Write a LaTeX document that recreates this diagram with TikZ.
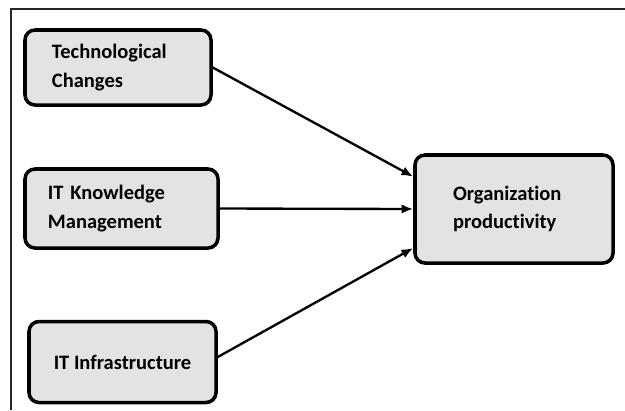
\documentclass[tikz,border=0pt]{standalone}
\usepackage{fontspec}
\setmainfont[Ligatures=NoCommon]{Carlito}
\usetikzlibrary{arrows.meta,calc}
\begin{document}
\begin{tikzpicture}[x=0.03cm, y=-0.03cm,
        factor/.style={draw, line width=3pt, rounded corners=0.3cm, fill=gray!22,
            font=\bfseries\fontsize{17.5}{25.5}\selectfont, inner ysep=0pt},
        link/.style={line width=2pt, -{Latex[length=10pt, width=8pt]}}]
        \useasboundingbox (0,0) rectangle (625,410);
        \draw[line width=1.2pt, black!85] (11,410) -- (11,9) -- (625,9);

        \node[factor, minimum width=5.58cm, minimum height=2.25cm, text width=3.96cm, inner xsep=0.81cm, align=left]
            (tech) at (118,67.5) {Technological\\Changes};
        \node[factor, minimum width=5.79cm, minimum height=2.37cm, text width=4.41cm, inner xsep=0.69cm, align=left]
            (itkm) at (121.5,208.5) {IT Knowledge\\Management};
        \node[factor, minimum width=5.61cm, minimum height=2.43cm, align=center]
            (infra) at (122.5,362) {IT Infrastructure};
        \node[factor, minimum width=5.94cm, minimum height=3.24cm, text width=3.66cm, inner xsep=1.14cm, align=left,
            font=\bfseries\fontsize{17.5}{24}\selectfont]
            (org) at (514,209) {Organization\\productivity};

        \coordinate (orgin1) at ($(org.north west)!0.21!(org.south west)$);
        \coordinate (orgin3) at ($(org.north west)!0.85!(org.south west)$);

        \draw[link] (tech.east) -- (orgin1);
        \draw[link] (itkm.east) -- (org.west);
        \draw[link] ([yshift=0.15cm]infra.east) -- (orgin3);
    \end{tikzpicture}
\end{document}
